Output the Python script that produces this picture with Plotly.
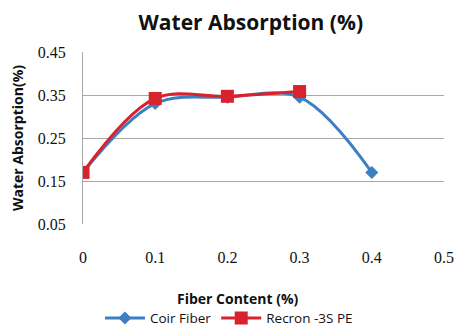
import plotly.graph_objects as go

fiber = [0, 0.1, 0.2, 0.3, 0.4]
coir = [0.17, 0.33, 0.345, 0.345, 0.17]
recron_x = [0, 0.1, 0.2, 0.3]
recron = [0.17, 0.342, 0.347, 0.358]
yticks = [0.05, 0.15, 0.25, 0.35, 0.45]
xticks = [0, 0.1, 0.2, 0.3, 0.4, 0.5]

serif = "Liberation Serif, Times New Roman, serif"

fig = go.Figure()
fig.add_trace(go.Scatter(x=fiber, y=coir, name="Coir Fiber", mode="lines+markers",
                         line=dict(color="#3c7fc3", width=3, shape="spline", smoothing=1),
                         marker=dict(symbol="diamond", size=10, color="#3c7fc3")))
fig.add_trace(go.Scatter(x=recron_x, y=recron, name="Recron -3S PE", mode="lines+markers",
                         line=dict(color="#d8232f", width=3, shape="spline", smoothing=1),
                         marker=dict(symbol="square", size=13, color="#d8232f")))

fig.update_layout(
    width=475, height=330,
    margin=dict(l=83, r=31, t=52, b=106),
    paper_bgcolor="white", plot_bgcolor="white",
    title=dict(text="<b>Water Absorption (%)</b>", x=0.528, xanchor="center", y=0.93, yanchor="middle",
               font=dict(family="Open Sans", size=21, color="#111")),
    xaxis=dict(range=[0, 0.5], tickvals=xticks, ticktext=[str(v) for v in xticks],
               showgrid=False, zeroline=False, showline=False, ticks="", automargin=False,
               ticklabelstandoff=22,
               tickfont=dict(family=serif, size=16, color="#111")),
    yaxis=dict(range=[0.05, 0.45], tickvals=yticks, ticktext=["0.05", "0.15", "0.25", "0.35", "0.45"],
               showgrid=True, gridcolor="#a8a8a8", gridwidth=1, zeroline=False,
               showline=True, linecolor="#a8a8a8", linewidth=1, ticks="", automargin=False,
               ticklabelstandoff=13,
               tickfont=dict(family=serif, size=16, color="#111"),
               title=dict(text="<b>Water Absorption(%)</b>", standoff=10,
                          font=dict(family="Open Sans", size=14, color="#111"))),
    legend=dict(orientation="h", xref="container", x=0.482, xanchor="center",
                yref="container", y=0.036, yanchor="middle",
                font=dict(family="Open Sans", size=13.5, color="#111"), itemwidth=40,
                bgcolor="rgba(0,0,0,0)"),
    showlegend=True,
    annotations=[dict(text="<b>Fiber Content (%)</b>", xref="paper", yref="paper",
                      x=(237 - 83) / 361, y=-(298 - 224) / 172, xanchor="center", yanchor="middle",
                      showarrow=False, font=dict(family="Open Sans", size=14, color="#111"))],
)
fig.write_html("out.html")
